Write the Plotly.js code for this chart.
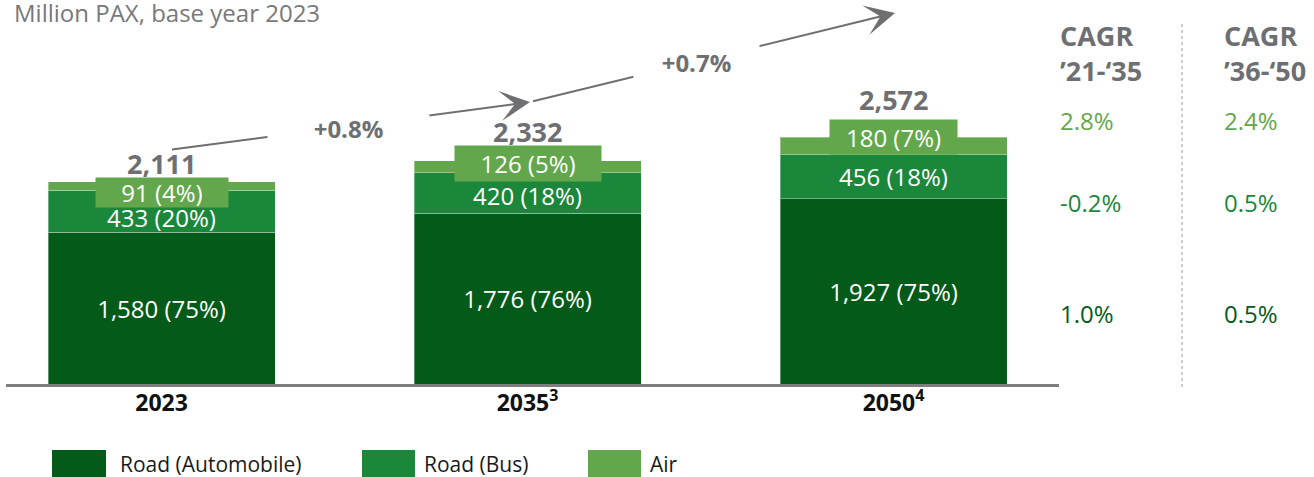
<!DOCTYPE html>
<html>
<head>
<meta charset="utf-8">
<script src="https://cdn.plot.ly/plotly-3.0.1.min.js"></script>
<style>html,body{margin:0;padding:0;background:#fff;}#chart{width:1314px;height:477px;}</style>
</head>
<body>
<div id="chart"></div>
<script>
// ---------- data ----------
const categories = ['2023', '2035', '2050'];
const tickLabels = ['2023', '2035<sup>3</sup>', '2050<sup>4</sup>'];
const roadAutomobile = [1580, 1776, 1927];
const roadBus = [433, 420, 456];
const air = [91, 126, 180];
const autoShare = [75, 76, 75];
const busShare = [20, 18, 18];
const airShare = [4, 5, 7];
const totals = [2111, 2332, 2572];
const growthLabels = ['+0.8%', '+0.7%'];
const cagrHeaders = ['CAGR<br>\u201921-\u201835', 'CAGR<br>\u201936-\u201850'];
const cagr2135 = ['2.8%', '-0.2%', '1.0%']; // Air, Bus, Automobile
const cagr3650 = ['2.4%', '0.5%', '0.5%'];
const seriesNames = ['Road (Automobile)', 'Road (Bus)', 'Air'];
const unitLabel = 'Million PAX, base year 2023';

// ---------- styles / layout helpers ----------
const FONT = 'Open Sans, Noto Sans, sans-serif';
const C_AUTO = '#045a18', C_BUS = '#1b873b', C_AIR = '#63a74c', GREY = '#6e6f73';
const W = 1314, H = 477, L = 6, R = 1059, T = 0, B = 384;
const px = x => (x - L) / (R - L);
const py = y => (B - y) / (B - T);
const fmt = v => v.toLocaleString('en-US');

const totalShift = [17, 28, 37];
const airBoxShift = [-12, -4, 0];
const airBoxW = [132, 146, 127];
const airBoxH = [29, 35, 34];
const busLabelShift = [-6, -3, 0];

const barCommon = {
  type: 'bar', x: categories, width: 0.62, hoverinfo: 'skip',
  textposition: 'inside', insidetextanchor: 'middle', textangle: 0,
  constraintext: 'none', cliponaxis: false,
  textfont: {family: FONT, size: 24, color: '#ffffff'},
  marker: {line: {color: 'rgba(255,255,255,0.35)', width: 1}}
};
const traces = [
  Object.assign({}, barCommon, {name: seriesNames[0], y: roadAutomobile,
    text: roadAutomobile.map((v, i) => `${fmt(v)} (${autoShare[i]}%)`),
    marker: Object.assign({}, barCommon.marker, {color: C_AUTO})}),
  Object.assign({}, barCommon, {name: seriesNames[1], y: roadBus, textposition: 'none',
    marker: Object.assign({}, barCommon.marker, {color: C_BUS})}),
  Object.assign({}, barCommon, {name: seriesNames[2], y: air, textposition: 'none',
    marker: Object.assign({}, barCommon.marker, {color: C_AIR})})
];

const annotations = [];
const shapes = [];

annotations.push({xref: 'paper', yref: 'paper', x: px(12), y: py(12), xanchor: 'left', yanchor: 'middle',
  text: unitLabel, showarrow: false, font: {family: FONT, size: 24, color: '#77787b'}});

// growth arrows
annotations.push({xref: 'paper', yref: 'paper', x: px(530), y: py(102), ax: 169 - 530, ay: 150 - 102,
  text: ' ', showarrow: true, arrowhead: 3, arrowsize: 2.5, arrowwidth: 2, arrowcolor: GREY, standoff: 0, startstandoff: 0});
annotations.push({xref: 'paper', yref: 'paper', x: px(895), y: py(13), ax: 530 - 895, ay: 102 - 13,
  text: ' ', showarrow: true, arrowhead: 3, arrowsize: 2.5, arrowwidth: 2, arrowcolor: GREY, standoff: 0, startstandoff: 0});
const growthPos = [[348, 128, 161, 27], [696, 62.5, 125, 34]];
growthLabels.forEach((g, i) => {
  const [gx, gy, gw, gh] = growthPos[i];
  annotations.push({xref: 'paper', yref: 'paper', x: px(gx), y: py(gy), xanchor: 'center', yanchor: 'middle',
    text: `<b>${g}</b>`, showarrow: false, bgcolor: '#ffffff', width: gw, height: gh, borderpad: 0,
    font: {family: FONT, size: 24, color: GREY}});
});

// bus labels, totals and air boxes (x given as category index)
categories.forEach((c, i) => {
  annotations.push({xref: 'x', yref: 'y', x: i, y: roadAutomobile[i] + roadBus[i] / 2, yshift: busLabelShift[i],
    yanchor: 'middle', text: `${fmt(roadBus[i])} (${busShare[i]}%)`, showarrow: false,
    font: {family: FONT, size: 24, color: '#ffffff'}});
  annotations.push({xref: 'x', yref: 'y', x: i, y: totals[i], yshift: totalShift[i], yanchor: 'middle',
    text: `<b>${fmt(totals[i])}</b>`, showarrow: false, font: {family: FONT, size: 27, color: GREY}});
  annotations.push({xref: 'x', yref: 'y', x: i, y: totals[i], yshift: airBoxShift[i], yanchor: 'middle',
    text: `${air[i]} (${airShare[i]}%)`, showarrow: false, bgcolor: C_AIR, borderpad: 0,
    width: airBoxW[i], height: airBoxH[i], font: {family: FONT, size: 24, color: '#ffffff'}});
});

// CAGR columns
const colX = [1058, 1222];
const rowY = [120, 203, 313];
const rowColors = [C_AIR, C_BUS, C_AUTO];
[cagr2135, cagr3650].forEach((col, j) => {
  annotations.push({xref: 'paper', yref: 'paper', x: px(colX[j]), y: py(53), xanchor: 'left', yanchor: 'middle',
    align: 'left', text: `<b>${cagrHeaders[j]}</b>`, showarrow: false, font: {family: FONT, size: 27, color: GREY}});
  col.forEach((v, k) => {
    annotations.push({xref: 'paper', yref: 'paper', x: px(colX[j]), y: py(rowY[k]), xanchor: 'left', yanchor: 'middle',
      text: v, showarrow: false, font: {family: FONT, size: 24, color: rowColors[k]}});
  });
});
shapes.push({type: 'line', xref: 'paper', yref: 'paper', x0: px(1182), x1: px(1182), y0: py(24), y1: py(389),
  line: {color: '#9a9a9a', width: 1, dash: 'dot'}});

// legend
const legX = [[52, 106, 118], [362, 415, 422], [588, 641, 648]];
const legColors = [C_AUTO, C_BUS, C_AIR];
seriesNames.forEach((n, i) => {
  shapes.push({type: 'rect', xref: 'paper', yref: 'paper', x0: px(legX[i][0]), x1: px(legX[i][1]),
    y0: py(450), y1: py(485), fillcolor: legColors[i], line: {width: 0}});
  annotations.push({xref: 'paper', yref: 'paper', x: px(legX[i][2]), y: py(464), xanchor: 'left', yanchor: 'middle',
    text: n, showarrow: false, font: {family: FONT, size: 21, color: '#1a1a1a'}});
});

const layout = {
  width: W, height: H,
  margin: {l: L, r: W - R, t: T, b: H - B, pad: 0},
  paper_bgcolor: '#ffffff', plot_bgcolor: '#ffffff',
  barmode: 'stack', showlegend: false,
  xaxis: {type: 'category', range: [-0.425, 2.452], tickvals: categories, ticktext: tickLabels,
    showline: true, linecolor: '#7f7f7f', linewidth: 2.5, ticks: '', showgrid: false, zeroline: false,
    ticklabelstandoff: -3,
    fixedrange: true, tickfont: {family: FONT, size: 23, color: '#111111', weight: 700}},
  yaxis: {visible: false, range: [0, 3992], showgrid: false, zeroline: false, fixedrange: true},
  annotations: annotations, shapes: shapes
};

Plotly.newPlot('chart', traces, layout, {displayModeBar: false, staticPlot: true});
</script>
</body>
</html>
